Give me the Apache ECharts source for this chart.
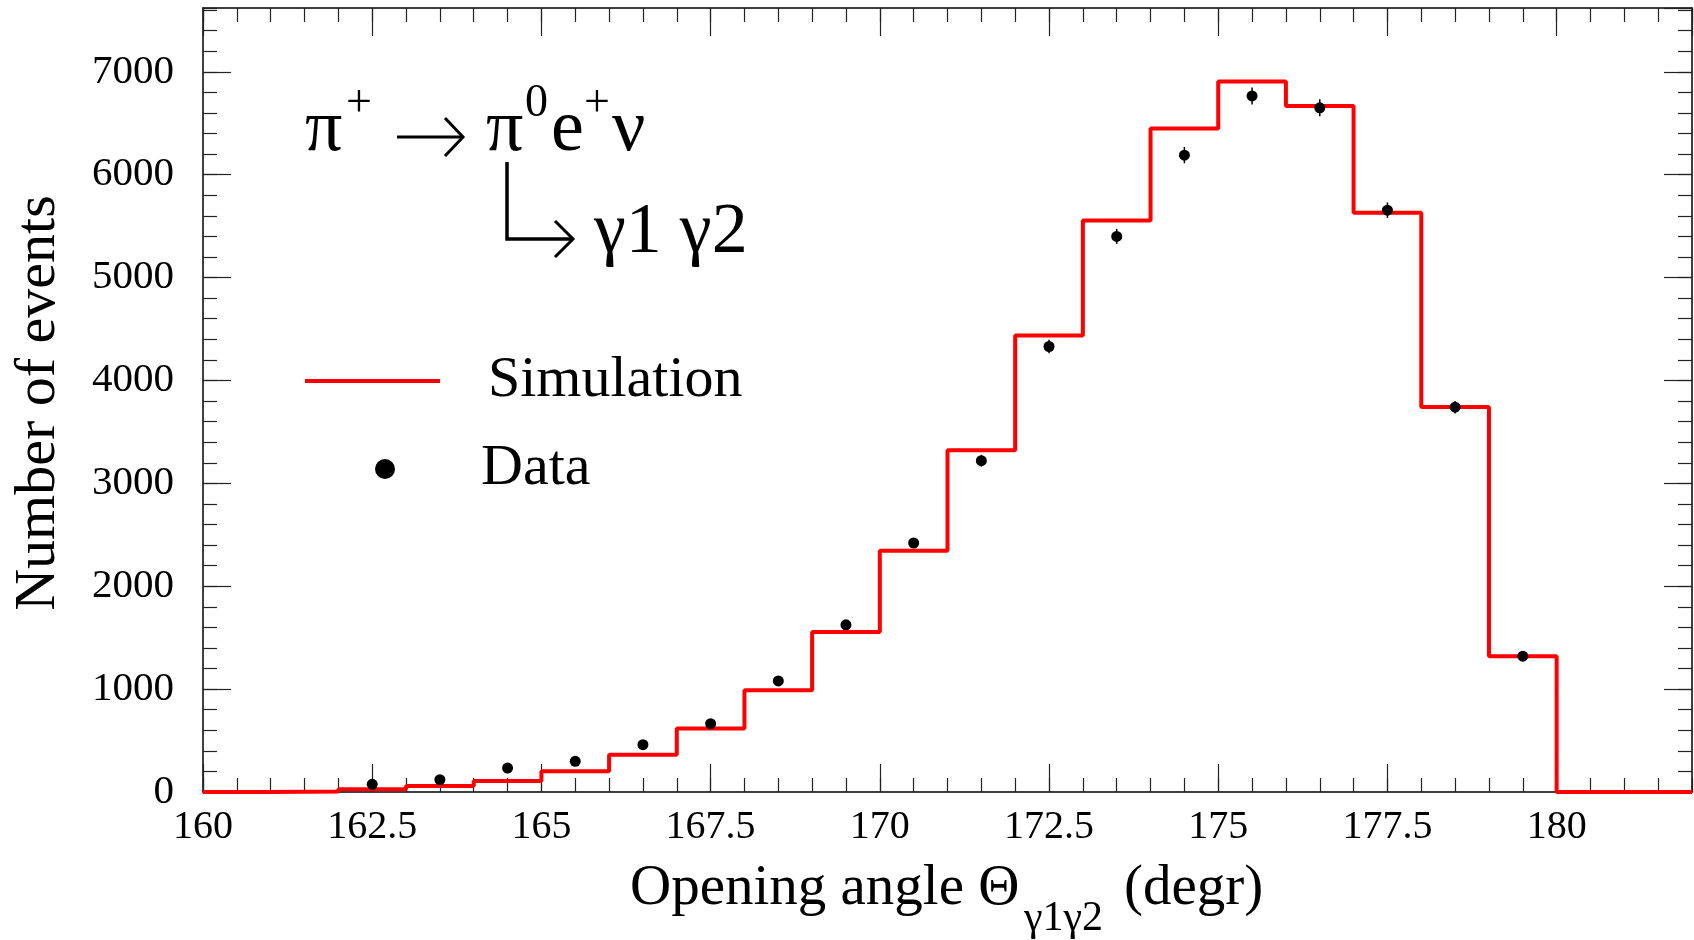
<!DOCTYPE html>
<html>
<head>
<meta charset="utf-8">
<title>Opening angle distribution</title>
<script src="https://cdn.jsdelivr.net/npm/echarts@6/dist/echarts.min.js"></script>
<style>
  html, body { margin: 0; padding: 0; background: #fff; }
  #chart { width: 1694px; height: 940px; }
</style>
</head>
<body>
<div id="chart"></div>
<script>
// Histogram bin edges (degrees) and simulated counts per 1-degree bin
const binEdges = [160, 161, 162, 163, 164, 165, 166, 167, 168, 169, 170, 171,
                  172, 173, 174, 175, 176, 177, 178, 179, 180, 181, 182];
const simCounts = [0, 6, 26, 58, 107, 201, 362, 616, 990, 1556, 2344, 3321,
                   4436, 5555, 6450, 6905, 6667, 5630, 3742, 1320, 0, 0];

// Measured data: bin centres, counts and statistical errors
const dataCenters = [162.5, 163.5, 164.5, 165.5, 166.5, 167.5, 168.5, 169.5, 170.5,
                     171.5, 172.5, 173.5, 174.5, 175.5, 176.5, 177.5, 178.5, 179.5];
const dataCounts = [75, 120, 233, 298, 460, 664, 1079, 1625, 2420,
                    3220, 4330, 5400, 6190, 6765, 6650, 5655, 3740, 1320];
const dataErrors = [9, 11, 15, 17, 21, 26, 33, 40, 49,
                    57, 66, 73, 79, 82, 82, 75, 61, 36];

// Axis ranges and tick spacing
const xRange = [160, 182];
const yRange = [0, 7620];
const xMajor = 2.5, xMinor = 0.5;
const yMajor = 1000, yMinor = 200;

const SERIF = '"Liberation Serif", "Times New Roman", serif';
const tickColor = '#222';

// Step line: each bin edge carries the count of the bin that starts there
const simLine = binEdges.map((e, i) => [e, simCounts[Math.min(i, simCounts.length - 1)]]);
const dataPts = dataCenters.map((x, i) => [x, dataCounts[i]]);
const errPts = dataCenters.map((x, i) => [x, dataCounts[i], dataErrors[i]]);

const plainNumber = v => String(v);

function xAxisDef(pos, interval, len, labels, line) {
  return {
    type: 'value', position: pos, min: xRange[0], max: xRange[1], interval: interval,
    axisLine: { show: line, onZero: false, lineStyle: { color: '#000', width: 1.5 } },
    axisTick: { show: true, inside: true, length: len, lineStyle: { color: tickColor, width: 1.2 } },
    axisLabel: labels ? {
      show: true, interval: 0, showMaxLabel: false, margin: 15, formatter: plainNumber,
      fontFamily: SERIF, fontSize: 40, color: '#000'
    } : { show: false },
    splitLine: { show: false }
  };
}
function yAxisDef(pos, interval, len, labels, line) {
  return {
    type: 'value', position: pos, min: yRange[0], max: yRange[1], interval: interval,
    axisLine: { show: line, onZero: false, lineStyle: { color: '#000', width: 1.5 } },
    axisTick: { show: true, inside: true, length: len, lineStyle: { color: tickColor, width: 1.2 } },
    axisLabel: labels ? {
      show: true, interval: 0, showMaxLabel: false, margin: 29, formatter: plainNumber,
      fontFamily: SERIF, fontSize: 41, color: '#000'
    } : { show: false },
    splitLine: { show: false }
  };
}

function txt(str, x, y, size, align, rot) {
  return {
    type: 'text', x: x, y: y, rotation: rot || 0, z: 10,
    style: {
      text: str, fill: '#000', font: size + 'px ' + SERIF,
      textAlign: align || 'left', textVerticalAlign: 'middle',
      align: align || 'left', verticalAlign: 'middle'
    }
  };
}
function stroke(points, w) {
  return {
    type: 'polyline', z: 10,
    shape: { points: points },
    style: { stroke: '#000', lineWidth: w, fill: null, lineJoin: 'miter' }
  };
}

const chart = echarts.init(document.getElementById('chart'), null, { renderer: 'canvas' });

chart.setOption({
  backgroundColor: '#fff',
  animation: false,
  grid: { left: 203, top: 8, right: 2, bottom: 148, containLabel: false },
  xAxis: [
    xAxisDef('bottom', xMajor, 28, true, true),
    xAxisDef('bottom', xMinor, 14, false, false),
    xAxisDef('top', xMajor, 28, false, true),
    xAxisDef('top', xMinor, 14, false, false)
  ],
  yAxis: [
    yAxisDef('left', yMajor, 28, true, true),
    yAxisDef('left', yMinor, 14, false, false),
    yAxisDef('right', yMajor, 28, false, true),
    yAxisDef('right', yMinor, 14, false, false)
  ],
  legend: [
    {
      left: 305, top: 352, padding: 0, selectedMode: false,
      itemWidth: 135, itemHeight: 4,
      data: [{ name: 'Simulation', icon: 'rect' }],
      textStyle: { fontFamily: SERIF, fontSize: 58, color: '#000', padding: [24, 0, 0, 43] }
    },
    {
      left: 375, top: 440, padding: 0, selectedMode: false,
      itemWidth: 40, itemHeight: 20,
      data: [{ name: 'Data', icon: 'circle' }],
      textStyle: { fontFamily: SERIF, fontSize: 58, color: '#000', padding: [26, 0, 0, 71] }
    }
  ],
  series: [
    {
      name: 'Simulation', type: 'line', step: 'end',
      xAxisIndex: 0, yAxisIndex: 0,
      data: simLine, showSymbol: false, symbol: 'none',
      color: '#ff0000',
      lineStyle: { color: '#ff0000', width: 4 },
      z: 2
    },
    {
      name: 'Data errors', type: 'custom',
      xAxisIndex: 0, yAxisIndex: 0,
      data: errPts, encode: { x: 0, y: 1 },
      renderItem: function (params, api) {
        const x = api.value(0), y = api.value(1), e = api.value(2);
        const p1 = api.coord([x, y + e]);
        const p2 = api.coord([x, y - e]);
        return {
          type: 'line',
          shape: { x1: p1[0], y1: p1[1], x2: p2[0], y2: p2[1] },
          style: { stroke: '#000', lineWidth: 1.5 }
        };
      },
      z: 3
    },
    {
      name: 'Data', type: 'scatter',
      xAxisIndex: 0, yAxisIndex: 0,
      data: dataPts, symbol: 'circle', symbolSize: 11,
      color: '#000', itemStyle: { color: '#000', opacity: 1 },
      z: 4
    }
  ],
  graphic: [
    // decay chain  π+ → π0 e+ ν
    txt('π', 305, 131, 74),
    txt('+', 346, 104, 46),
    stroke([[397, 137], [461, 137]], 3),
    stroke([[445, 118], [463, 137], [445, 156]], 3),
    txt('π', 486, 131, 74),
    txt('0', 525, 104, 46),
    txt('e', 551, 131, 74),
    txt('+', 584, 104, 46),
    txt('ν', 612, 131, 74),
    // π0 → γ1 γ2 branch
    stroke([[507, 162], [507, 239], [571, 239]], 3.5),
    stroke([[555, 221], [573, 239], [555, 257]], 3),
    txt('γ1 γ2', 594, 233, 72),
    // axis titles
    txt('Number of events', 39, 403, 58, 'center', Math.PI / 2),
    txt('Opening angle Θ', 630, 889, 57),
    txt('γ1γ2', 1024, 919, 42),
    txt('(degr)', 1124, 889, 57)
  ]
});
</script>
</body>
</html>
